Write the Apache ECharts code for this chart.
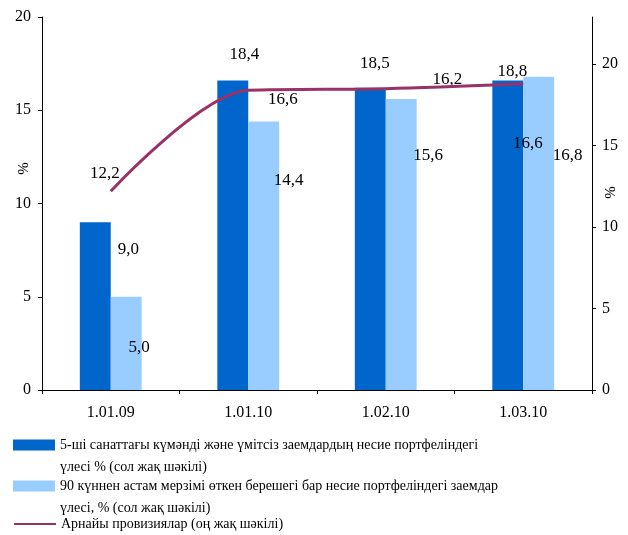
<!DOCTYPE html>
<html>
<head>
<meta charset="utf-8">
<script src="https://cdn.jsdelivr.net/npm/echarts@6/dist/echarts.min.js"></script>
<style>
  html, body { margin: 0; padding: 0; background: #fff; }
  #chart { width: 628px; height: 535px; }
</style>
</head>
<body>
<div id="chart"></div>
<script>
// data
const categories = ['1.01.09', '1.01.10', '1.02.10', '1.03.10'];
const doubtfulShare = [9.0, 16.6, 16.2, 16.6];
const overdueShare = [5.0, 14.4, 15.6, 16.8];
const provisions = [12.2, 18.4, 18.5, 18.8];

const seriesNames = [
    '5-ші санаттағы күмәнді және үмітсіз заемдардың несие портфеліндегі үлесі % (сол жақ шәкілі)',
    '90 күннен астам мерзімі өткен берешегі бар несие портфеліндегі заемдар үлесі, % (сол жақ шәкілі)',
    'Арнайы провизиялар (оң жақ шәкілі)'
];
// leading blank line keeps the first text line level with the legend icon
const legendLines = [
    '\n5-ші санаттағы күмәнді және үмітсіз заемдардың несие портфеліндегі\nүлесі % (сол жақ шәкілі)',
    '\n90 күннен астам мерзімі өткен берешегі бар несие портфеліндегі заемдар\nүлесі, % (сол жақ шәкілі)',
    'Арнайы провизиялар (оң жақ шәкілі)'
];

// label placement (the original has hand-placed labels)
const darkOffsets = [[33, 36], [50, 28], [77, 0], [20, 72]];
const lightOffsets = [[13, 59], [25, 68], [27, 65], [29, 87]];
const lineOffsets = [[-6, -9], [-4, -27], [-11, -17], [-11, -4]];

const FONT = 'Liberation Serif';
const fmt = p => p.value.toFixed(1).replace('.', ',');

const withOffsets = (values, offsets) => values.map((v, i) => ({
    value: v,
    label: { offset: offsets[i] }
}));

const labelStyle = {
    show: true,
    position: 'top',
    distance: 0,
    formatter: fmt,
    fontFamily: FONT,
    fontSize: 17,
    color: '#000'
};

const chart = echarts.init(document.getElementById('chart'));

const legendBase = {
    orient: 'vertical',
    left: 13,
    padding: 0,
    itemWidth: 42,
    itemHeight: 11,
    itemGap: 0,
    selectedMode: false,
    textStyle: { fontFamily: FONT, fontSize: 14, color: '#000', lineHeight: 22 }
};

const option = {
    animation: false,
    textStyle: { fontFamily: FONT },
    grid: { left: 42, right: 36, top: 17, bottom: 145, containLabel: false, outerBoundsMode: 'none' },
    legend: [
        Object.assign({}, legendBase, {
            top: 412,
            data: [{ name: seriesNames[0], icon: 'rect' }],
            formatter: () => legendLines[0]
        }),
        Object.assign({}, legendBase, {
            top: 453,
            data: [{ name: seriesNames[1], icon: 'rect' }],
            formatter: () => legendLines[1]
        }),
        Object.assign({}, legendBase, {
            top: 513,
            data: [{ name: seriesNames[2], itemStyle: { opacity: 0 } }],
            formatter: () => legendLines[2]
        })
    ],
    xAxis: {
        type: 'category',
        data: categories,
        axisLine: { lineStyle: { color: '#000', width: 1 } },
        axisTick: { show: true, length: 4, lineStyle: { color: '#000' } },
        axisLabel: { fontFamily: FONT, fontSize: 16, color: '#000', margin: 15 }
    },
    yAxis: [
        {
            type: 'value',
            min: 0,
            max: 20,
            interval: 5,
            name: '%',
            nameLocation: 'middle',
            nameGap: 10,
            nameRotate: 90,
            nameMoveOverlap: false,
            nameTextStyle: { fontFamily: FONT, fontSize: 15, color: '#000', padding: [0, 0, 0, 70] },
            axisLine: { show: true, lineStyle: { color: '#000' } },
            axisTick: { show: true, length: 4, lineStyle: { color: '#000' } },
            splitLine: { show: false },
            axisLabel: { fontFamily: FONT, fontSize: 16, color: '#000', margin: 11 }
        },
        {
            type: 'value',
            min: 0,
            max: 22.9,
            interval: 5,
            position: 'right',
            name: '%',
            nameLocation: 'middle',
            nameGap: 12,
            nameRotate: 90,
            nameMoveOverlap: false,
            nameTextStyle: { fontFamily: FONT, fontSize: 15, color: '#000', padding: [0, 0, 0, 22] },
            axisLine: { show: true, lineStyle: { color: '#000' } },
            axisTick: { show: true, length: 4, lineStyle: { color: '#000' } },
            splitLine: { show: false },
            axisLabel: { fontFamily: FONT, fontSize: 16, color: '#000', margin: 10, showMaxLabel: false }
        }
    ],
    series: [
        {
            name: seriesNames[0],
            type: 'bar',
            yAxisIndex: 0,
            data: withOffsets(doubtfulShare, darkOffsets),
            barGap: '0%',
            barCategoryGap: '55%',
            itemStyle: { color: '#0066CC' },
            label: labelStyle
        },
        {
            name: seriesNames[1],
            type: 'bar',
            yAxisIndex: 0,
            data: withOffsets(overdueShare, lightOffsets),
            itemStyle: { color: '#99CCFF' },
            label: labelStyle
        },
        {
            name: seriesNames[2],
            type: 'line',
            yAxisIndex: 1,
            data: withOffsets(provisions, lineOffsets),
            smooth: 0.3,
            symbol: 'circle',
            symbolSize: 0,
            showSymbol: true,
            lineStyle: { color: '#993366', width: 3 },
            itemStyle: { color: '#993366' },
            label: labelStyle,
            z: 5
        }
    ]
};

chart.setOption(option);
</script>
</body>
</html>
